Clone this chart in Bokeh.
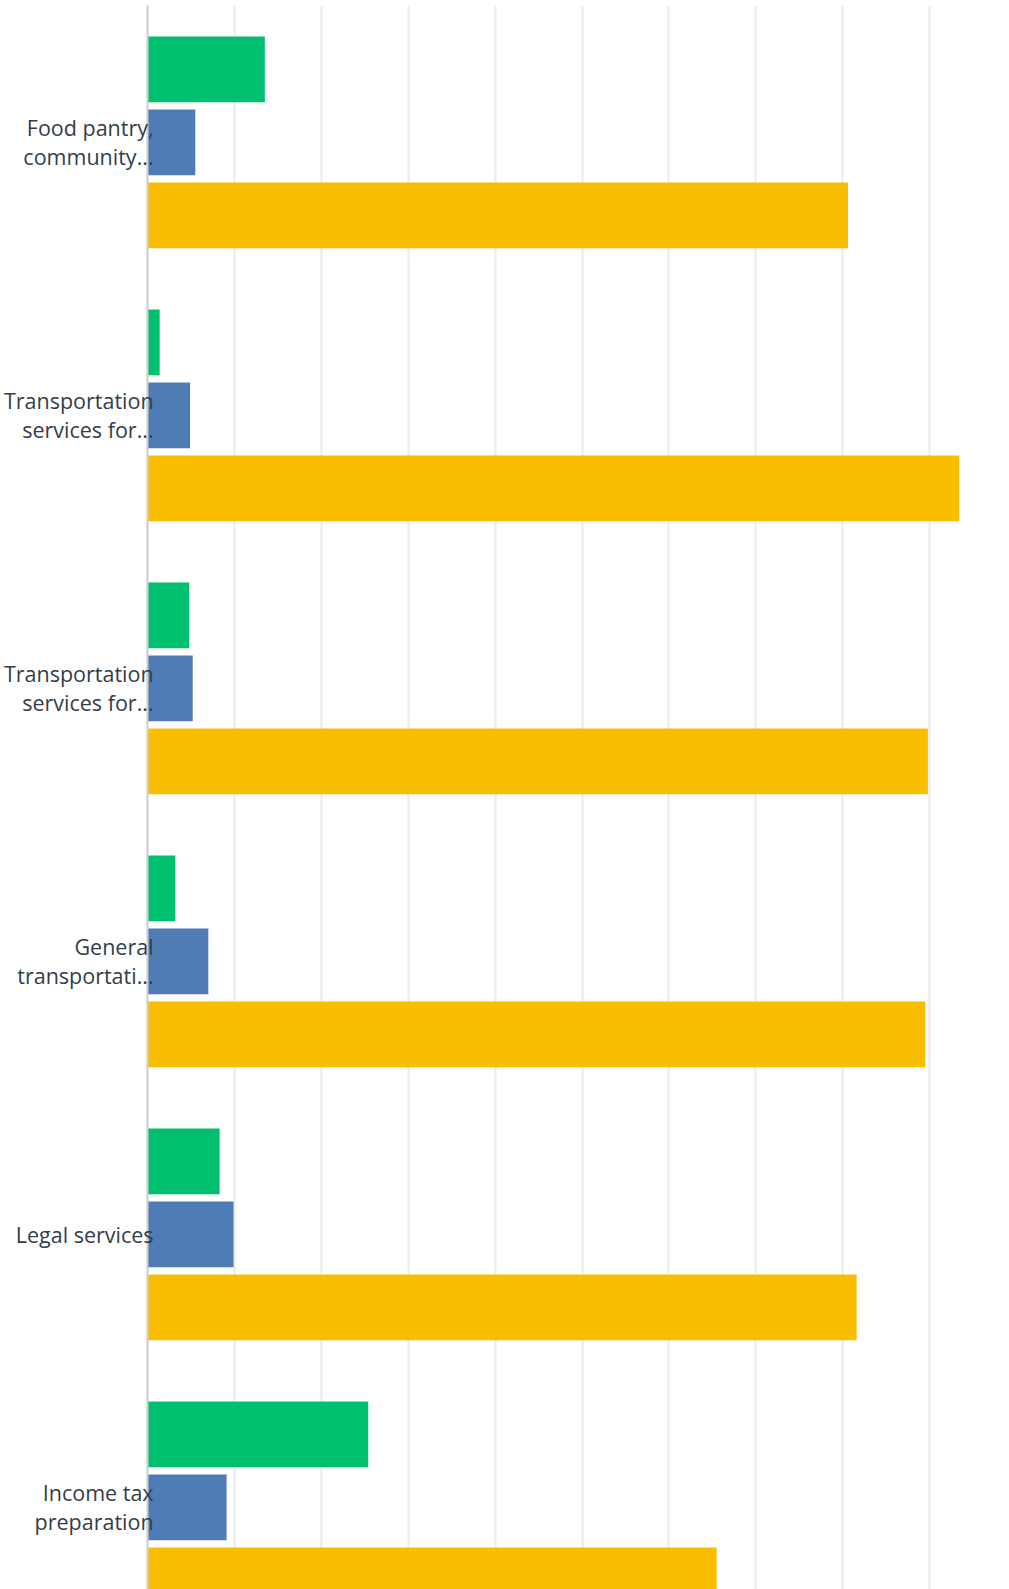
from bokeh.plotting import figure
from bokeh.models import ColumnDataSource, Range1d, FixedTicker, Span
from bokeh.core.properties import value
from bokeh.embed import file_html
from bokeh.resources import INLINE

categories = [
    "Food pantry,\ncommunity...",
    "Transportation\nservices for...",
    "Transportation\nservices for...",
    "General\ntransportati...",
    "Legal services",
    "Income tax\npreparation",
]
series_green = [13.5, 1.4, 4.8, 3.2, 8.3, 25.4]
series_blue = [5.5, 4.9, 5.2, 7.0, 9.9, 9.1]
series_yellow = [80.6, 93.4, 89.8, 89.5, 81.6, 65.5]
grid_ticks = [0, 10, 20, 30, 40, 50, 60, 70, 80, 90]

colors = ["#00BF6F", "#507CB6", "#F9BE00"]
offsets = [-0.2674, 0.0, 0.2674]
bar_h = 0.2407

W, H = 1009, 1589
p = figure(width=W, height=H, output_backend="svg", toolbar_location=None,
           x_range=Range1d(-16.916, 99.19), y_range=Range1d(5.301, -0.5011),
           min_border=0, min_border_left=0, min_border_right=0,
           min_border_top=5, min_border_bottom=0)
p.outline_line_color = None
p.xaxis.visible = False
p.yaxis.visible = False
p.ygrid.visible = False
p.xgrid.ticker = FixedTicker(ticks=grid_ticks)
p.xgrid.grid_line_color = "#ebebeb"
p.xgrid.grid_line_width = 2

idx = list(range(len(categories)))
for vals, col, off in zip([series_green, series_blue, series_yellow], colors, offsets):
    src = ColumnDataSource(dict(y=[i + off for i in idx], right=vals))
    p.hbar(y="y", left=0, right="right", height=bar_h, source=src,
           fill_color=col, line_color=None)

p.add_layout(Span(location=0, dimension="height", line_color="#cfcfcf", line_width=2))

lab = ColumnDataSource(dict(y=idx, text=categories, x=[0.7] * len(idx)))
p.text(x="x", y="y", text="text", source=lab, text_align="right",
       text_baseline="middle", text_font=value("Open Sans"),
       text_font_size="21.5px", text_color="#333E48", text_line_height=0.99,
       level="overlay")

open("out.html", "w").write(file_html(p, INLINE))
